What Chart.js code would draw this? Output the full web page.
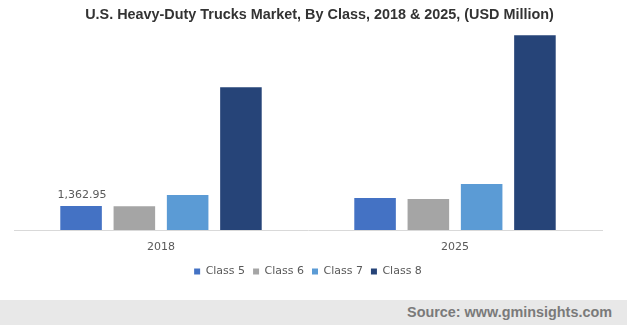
<!DOCTYPE html>
<html>
<head>
<meta charset="utf-8">
<script src="https://cdn.jsdelivr.net/npm/chart.js@4"></script>
<style>
    body { margin: 0; background: #fff; }
    #wrap { position: relative; width: 627px; height: 325px; overflow: hidden; }
    #title {
        position: absolute; left: 0; top: 6px; width: 627px; box-sizing: border-box; padding-left: 12px;
        text-align: center; font: bold 14.4px "Liberation Sans", Arial, sans-serif; line-height: 16px; color: #333;
    }
    #source {
        position: absolute; left: 0; top: 300px; width: 627px; height: 25px; box-sizing: border-box;
        background: #e8e8e8; text-align: right; padding: 4px 15px 0 0;
        font: bold 14.4px "Liberation Sans", Arial, sans-serif; line-height: 16px; color: #7a7a7a;
    }
    #chart { position: absolute; left: 0; top: 0; }
</style>
</head>
<body>
<div id="wrap">
    <canvas id="chart" width="627" height="325"></canvas>
    <div id="title">U.S. Heavy-Duty Trucks Market, By Class, 2018 &amp; 2025, (USD Million)</div>
    <div id="source">Source: www.gminsights.com</div>
</div>
<script>
const years = ['2018', '2025'];
const classNames = ['Class 5', 'Class 6', 'Class 7', 'Class 8'];
const class5 = [1362.95, 1820];
const class6 = [1355, 1760];
const class7 = [1990, 2610];
const class8 = [8120, 11070];
const classColors = ['#4472c4', '#a5a5a5', '#5b9bd5', '#264478'];
const yMax = 12000;

const series = [class5, class6, class7, class8];

// only the first 2018 bar carries a value label
const valueLabel = {
    id: 'valueLabel',
    afterDatasetsDraw(chart) {
        const bar = chart.getDatasetMeta(0).data[0];
        const value = chart.data.datasets[0].data[0];
        const ctx = chart.ctx;
        ctx.save();
        ctx.font = '11px "DejaVu Sans", Verdana, sans-serif';
        ctx.fillStyle = '#595959';
        ctx.textAlign = 'center';
        ctx.textBaseline = 'alphabetic';
        ctx.fillText(value.toLocaleString('en-US', { minimumFractionDigits: 2 }), bar.x + 1, bar.y - 8);
        ctx.restore();
    }
};

new Chart(document.getElementById('chart').getContext('2d'), {
    type: 'bar',
    data: {
        labels: years,
        datasets: series.map((values, i) => ({
            label: classNames[i],
            data: values,
            backgroundColor: classColors[i],
            borderWidth: 0,
            categoryPercentage: 0.725,
            barPercentage: 0.78
        }))
    },
    options: {
        responsive: false,
        animation: false,
        layout: {
            padding: { top: 19, left: 14, right: 25, bottom: 38 }
        },
        scales: {
            x: {
                grid: { display: false, drawTicks: false },
                border: { display: true, color: '#d9d9d9', width: 1 },
                ticks: {
                    padding: 11,
                    color: '#595959',
                    font: { family: '"DejaVu Sans", Verdana, sans-serif', size: 11 }
                },
                afterFit(scale) {
                    scale.height = 28;
                }
            },
            y: {
                display: false,
                min: 0,
                max: yMax
            }
        },
        plugins: {
            title: { display: false },
            tooltip: { enabled: false },
            legend: {
                position: 'bottom',
                labels: {
                    boxWidth: 6,
                    boxHeight: 6,
                    padding: 8,
                    color: '#595959',
                    font: { family: '"DejaVu Sans", Verdana, sans-serif', size: 11 }
                }
            }
        }
    },
    plugins: [valueLabel]
});
</script>
</body>
</html>
